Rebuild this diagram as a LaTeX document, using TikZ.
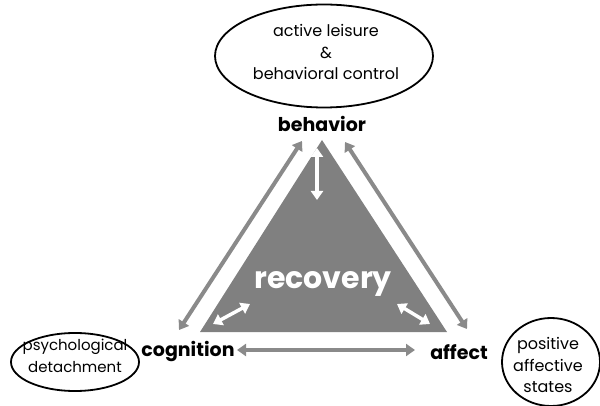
\documentclass[tikz,border=0pt]{standalone}
\usepackage{fontspec}
\setmainfont{Poppins}
\usetikzlibrary{arrows.meta,shapes.geometric}
\definecolor{trigray}{RGB}{128,128,128}
\definecolor{arrgray}{RGB}{138,138,138}
\begin{document}
\begin{tikzpicture}[x=1pt,y=-1pt,
  oval/.style={draw=black,line width=1.8pt,ellipse,inner sep=0pt},
  ovaltext/.style={inner sep=0pt,align=center,font=\fontsize{16}{21.7}\selectfont},
  corner/.style={inner sep=0pt,font=\bfseries\fontsize{19}{22}\selectfont},
  grayarrow/.style={draw=arrgray,line width=4pt,{Triangle[width=12pt,length=9pt]}-{Triangle[width=12pt,length=9pt]}},
  whitearrow/.style={draw=white,line width=3.5pt,{Triangle[width=12pt,length=9pt]}-{Triangle[width=12pt,length=9pt]}}]
\useasboundingbox (0,0) rectangle (600,406);
% triangle
\coordinate (tA) at (322,140);
\coordinate (tB) at (200,332);
\coordinate (tC) at (447,332);
\fill[trigray] (tA) -- (tB) -- (tC) -- cycle;
\node[inner sep=0pt,text=white,font=\bfseries\fontsize{30}{34}\selectfont] (rec) at (323,284) {recovery};
% ellipses
\node[oval,minimum width=218,minimum height=103] (top) at (324,56) {};
\node[ovaltext] (toptext) at (326,52) {active leisure\\\&\\behavioral control};
\node[oval,minimum width=128,minimum height=58] (left) at (75,362) {};
\node[ovaltext,font=\fontsize{15}{21.7}\selectfont] (lefttext) at (75,356) {psychological\\detachment};
\node[oval,minimum width=98,minimum height=88] (right) at (551,362) {};
\node[ovaltext] (righttext) at (548,365) {positive\\affective\\states};
% corner labels
\node[corner] (beh) at (322,124) {behavior};
\node[corner] (cog) at (188,352) {cognition};
\node[corner] (aff) at (459,352) {affect};
% outer gray arrows
\coordinate (l1) at (302,141);
\coordinate (l2) at (179,330);
\coordinate (r1) at (345,142);
\coordinate (r2) at (467,329);
\draw[grayarrow] (l1) -- (l2);
\draw[grayarrow] (r1) -- (r2);
\coordinate (b1) at (237,350);
\coordinate (b2) at (415,350);
\draw[grayarrow] (b1) -- (b2);
% inner white arrows
\coordinate (v1) at (317,148);
\coordinate (v2) at (317,200);
\coordinate (w1) at (213,324);
\coordinate (w2) at (250,304);
\coordinate (e1) at (397,304);
\coordinate (e2) at (430,324);
\draw[whitearrow] (v1) -- (v2);
\draw[whitearrow] (w1) -- (w2);
\draw[whitearrow] (e1) -- (e2);
\end{tikzpicture}
\end{document}
